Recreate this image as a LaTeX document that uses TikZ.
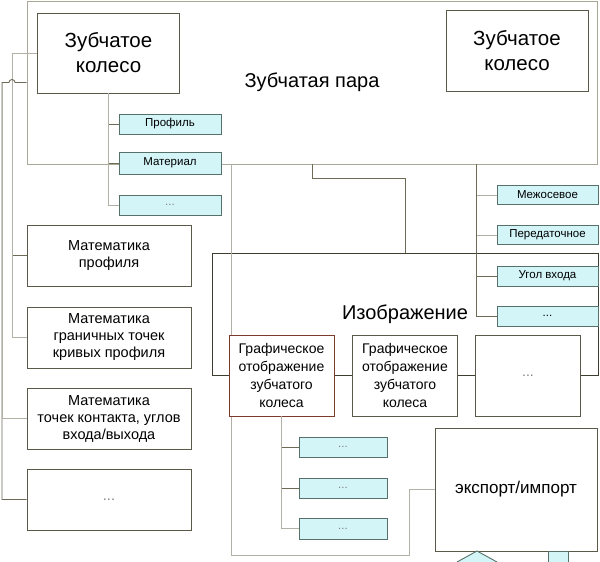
\documentclass[tikz,border=0pt]{standalone}
\usepackage{fontspec}
\setmainfont{Liberation Sans}
\definecolor{boxc}{HTML}{5B5A48}
\definecolor{redc}{HTML}{7A3B2C}
\definecolor{cyf}{HTML}{D3F5F8}
\definecolor{cyb}{HTML}{56706A}
\definecolor{lightl}{HTML}{B2B1A5}
\definecolor{darkl}{HTML}{6E6A58}
\definecolor{contc}{HTML}{A9A897}
\definecolor{imgc}{HTML}{3E3D30}
\begin{document}
\begin{tikzpicture}[x=1pt,y=-1pt,
  box/.style={draw=boxc, line width=0.9pt, fill=white, align=center, inner sep=0pt},
  wheel/.style={box, minimum width=142pt, minimum height=80pt, font=\fontsize{20.5}{25}\selectfont},
  mathbox/.style={box, minimum width=164pt, minimum height=61pt, font=\fontsize{14.5}{17}\selectfont},
  gbox/.style={box, minimum width=105pt, minimum height=81pt, font=\fontsize{14}{18}\selectfont},
  cbox/.style={draw=cyb, line width=0.9pt, fill=cyf, inner sep=0pt, minimum height=20pt, font=\fontsize{11.5}{13}\selectfont},
  cont/.style={inner sep=0pt, font=\fontsize{20}{24}\selectfont},
  link/.style={draw=lightl, line width=0.8pt},
  dlink/.style={draw=darkl, line width=0.9pt},
  ]
\useasboundingbox (0,0) rectangle (600,562);

% containers
\node[cont, draw=contc, line width=0.9pt, minimum width=570pt, minimum height=163pt] (pair) at (312,82.5) {Зубчатая пара};
\node[cont, draw=imgc, line width=0.8pt, minimum width=386pt, minimum height=122pt] (img) at (405,314) {Изображение};

% connectors (drawn before boxes)
\draw[dlink] (pair.south) -- ++(0,14) -| (img.north);
\draw[link] ([xshift=205pt]pair.south west) |- ++(178,391) |- (517,489.5);
\coordinate (rtop) at (476,164);
\coordinate (lb) at (2,82.5);

% wheels
\node[wheel] (wl) at (108.5,53) {Зубчатое\\колесо};
\node[wheel, minimum height=81pt] (wr) at (517,50.5) {Зубчатое\\колесо};

% cyan boxes of left wheel
\node[cbox, minimum width=102pt] (pf) at (170,124) {Профиль};
\node[cbox, minimum width=102pt, minimum height=22pt] (mt) at (170,163) {Материал};
\node[cbox, minimum width=102pt] (pd) at (170,205) {\textcolor{gray}{...}};
\draw[dlink] (wl.south) |- (pf.west);
\draw[dlink] (wl.south) |- (mt.west);
\draw[link] (wl.south) |- (pd.west);

% right cyan boxes
\node[cbox, minimum width=101pt, minimum height=19pt] (r1) at (547.5,195) {Межосевое};
\node[cbox, minimum width=101pt, minimum height=19pt] (r2) at (547.5,235) {Передаточное};
\node[cbox, minimum width=101pt] (r3) at (547.5,276) {Угол входа};
\node[cbox, minimum width=101pt] (r4) at (547.5,316) {...};
\draw[dlink] (rtop) |- (r4.west);
\draw[link] (rtop) |- (r1.west);
\draw[link] (rtop) |- (r2.west);
\draw[dlink] (rtop) |- (r3.west);

% math boxes
\node[mathbox] (m1) at (109,255.5) {Математика\\профиля};
\node[mathbox] (m2) at (109,337.5) {Математика\\граничных точек\\кривых профиля};
\node[mathbox] (m3) at (109,418.5) {Математика\\точек контакта, углов\\входа/выхода};
\node[mathbox] (m4) at (109,499.5) {\textcolor{gray}{...}};
\draw[dlink] (wl.west) -- ++(-25,0) |- (m1.west);
\draw[link] (wl.west) -- ++(-25,0) |- (m2.west);
\draw[dlink] (pair.west) -- (15,82.5) arc[start angle=0, end angle=-180, radius=3] -- (lb) |- (m4.west);
\draw[link] (lb) |- (m3.west);

% graphic boxes
\node[gbox, draw=redc] (g1) at (281.5,375.5) {Графическое\\отображение\\зубчатого\\колеса};
\node[gbox] (g2) at (405,375.5) {Графическое\\отображение\\зубчатого\\колеса};
\node[gbox] (g3) at (528,375.5) {\textcolor{gray}{...}};

% cyan under g1
\node[cbox, minimum width=88pt] (s1) at (343,447) {\textcolor{gray}{...}};
\node[cbox, minimum width=88pt] (s2) at (343,488) {\textcolor{gray}{...}};
\node[cbox, minimum width=88pt, minimum height=21pt] (s3) at (343,528.5) {\textcolor{gray}{...}};
\draw[dlink] (g1.south) |- (s1.west);
\draw[dlink] (g1.south) |- (s2.west);
\draw[link] (g1.south) |- (s3.west);

% export box
\node[box, minimum width=162pt, minimum height=123pt, font=\fontsize{17}{20}\selectfont] (exp) at (516,489.5) {экспорт/импорт};

% cut-off shapes at the bottom
\filldraw[fill=cyf, draw=cyb, line width=0.9pt] (457,562) -- (477,551) -- (497,562);
\filldraw[fill=cyf, draw=cyb, line width=0.9pt] (548,562) -- (548,551.5) -- (568,551.5) -- (568,562);
\end{tikzpicture}
\end{document}
